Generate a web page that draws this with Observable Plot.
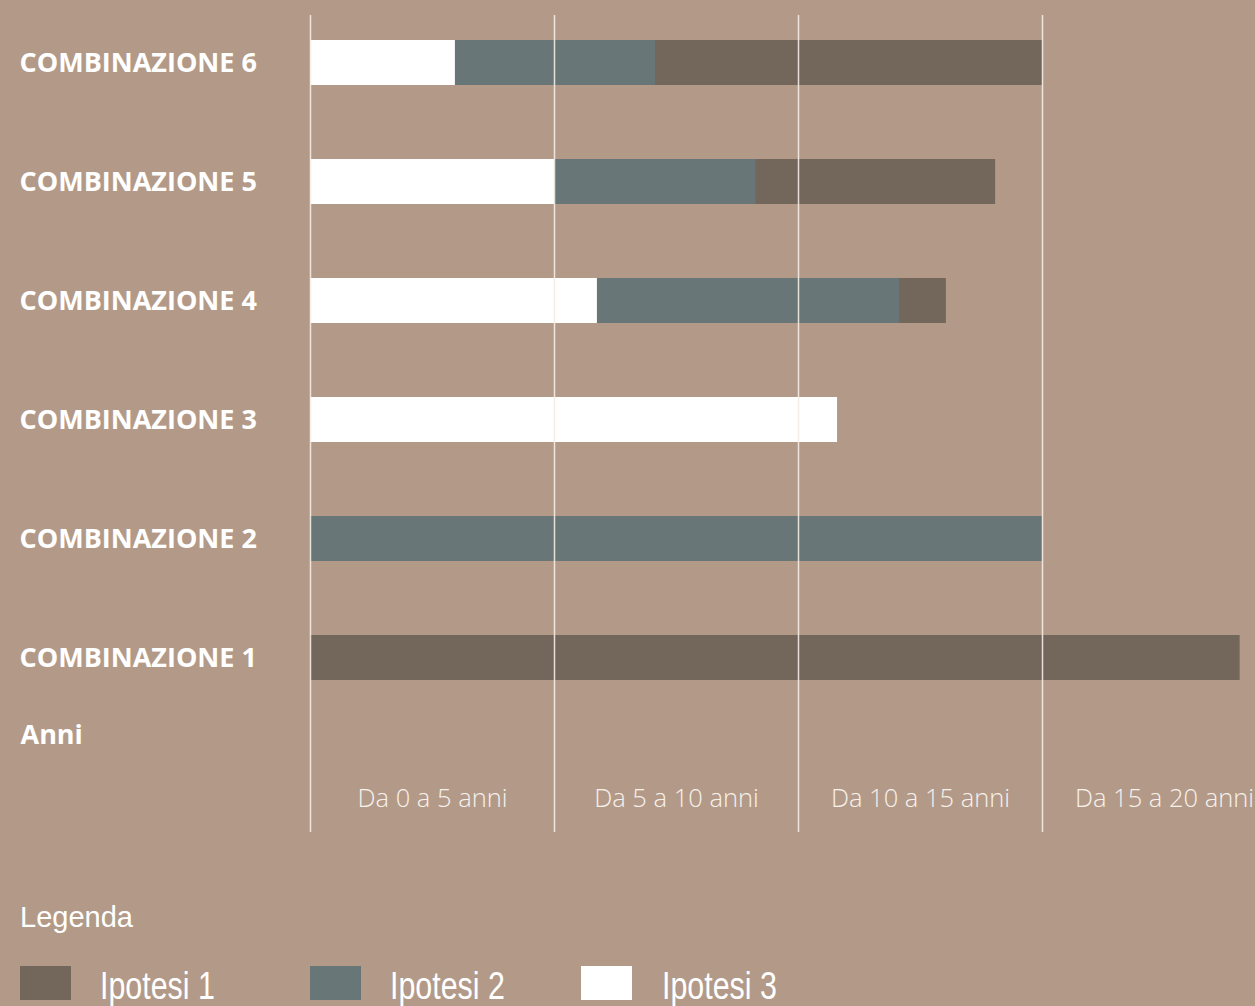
<!DOCTYPE html>
<html>
<head>
<meta charset="utf-8">
<script src="https://cdn.jsdelivr.net/npm/d3@7"></script>
<script src="https://cdn.jsdelivr.net/npm/@observablehq/plot@0.6"></script>
<style>
  html, body { margin: 0; padding: 0; background: #b39a88; }
  body { width: 1255px; height: 1006px; position: relative; overflow: hidden; }
  #chart { position: absolute; left: 0; top: 0; }
  .leg-title { position: absolute; left: 20px; top: 903px; font-family: "Liberation Sans", Arial, sans-serif; font-size: 29px; color: #fff; line-height: 1; }
  .sw { position: absolute; top: 966px; width: 51px; height: 34px; }
  .lab { position: absolute; top: 967px; font-family: "Liberation Sans", Arial, sans-serif; font-size: 38px; color: #fff; line-height: 1; white-space: nowrap; transform-origin: left center; transform: scaleX(0.8); }
</style>
</head>
<body>
<div id="chart"></div>
<div id="legend"></div>
<script>
const combos = ["COMBINAZIONE 6", "COMBINAZIONE 5", "COMBINAZIONE 4", "COMBINAZIONE 3", "COMBINAZIONE 2", "COMBINAZIONE 1"];
// years per hypothesis, in the order of combos
const ipotesi3 = [2.97, 5.0, 5.88, 10.8, 0, 0];
const ipotesi2 = [4.1, 4.12, 6.19, 0, 15.0, 0];
const ipotesi1 = [7.93, 4.92, 0.96, 0, 0, 19.05];
const seriesNames = ["Ipotesi 1", "Ipotesi 2", "Ipotesi 3"];
const seriesColors = ["#73675b", "#687677", "#ffffff"];
const gridYears = [0, 5, 10, 15];
const tickMid = [2.5, 7.5, 12.5, 17.5];
const tickLabels = ["Da 0 a 5 anni", "Da 5 a 10 anni", "Da 10 a 15 anni", "Da 15 a 20 anni"];
const yearsLabel = "Anni";
const legendTitle = "Legenda";

const rows = [];
combos.forEach((c, i) => {
  [["Ipotesi 3", ipotesi3[i]], ["Ipotesi 2", ipotesi2[i]], ["Ipotesi 1", ipotesi1[i]]].forEach(([s, v]) => {
    if (v > 0) rows.push({combo: c, serie: s, value: v});
  });
});
const ticks = tickMid.map((m, i) => ({x: m, label: tickLabels[i]}));

const plot = Plot.plot({
  width: 1255,
  height: 860,
  marginTop: 15,
  marginBottom: 28,
  marginLeft: 310,
  marginRight: 0,
  style: {background: "transparent", color: "#ffffff", fontFamily: "'Open Sans', sans-serif", overflow: "visible"},
  x: {domain: [0, 20], range: [310, 1286], axis: null},
  y: {domain: combos, range: [39.4, 680.7], paddingInner: 0.62, paddingOuter: 0, axis: null},
  color: {domain: seriesNames, range: seriesColors},
  marks: [
    Plot.barX(rows, Plot.stackX({y: "combo", x: "value", fill: "serie", order: null})),
    Plot.ruleX(gridYears, {stroke: "#f4ece6", strokeWidth: 1.5, strokeOpacity: 0.9}),
    Plot.axisY({tickSize: 0, textAnchor: "start", dx: -282, fontSize: 27, fontWeight: 700, fill: "#ffffff", label: null}),
    Plot.text([yearsLabel], {frameAnchor: "bottom-left", dx: -290, dy: -89, textAnchor: "start", fontSize: 27, fontWeight: 700, fill: "#ffffff"}),
    Plot.text(ticks, {x: "x", text: "label", frameAnchor: "bottom", dy: -26, fontSize: 25.5, fontWeight: 300, fill: "#f7f1ec"})
  ]
});
document.getElementById("chart").appendChild(plot);

const leg = document.getElementById("legend");
const t = document.createElement("div");
t.className = "leg-title";
t.textContent = legendTitle;
leg.appendChild(t);
const swX = [20, 310, 581];
const labX = [100, 390, 662];
seriesNames.forEach((s, i) => {
  const sw = document.createElement("div");
  sw.className = "sw";
  sw.style.left = swX[i] + "px";
  sw.style.background = seriesColors[i];
  leg.appendChild(sw);
  const l = document.createElement("div");
  l.className = "lab";
  l.style.left = labX[i] + "px";
  l.textContent = s;
  leg.appendChild(l);
});
</script>
</body>
</html>
